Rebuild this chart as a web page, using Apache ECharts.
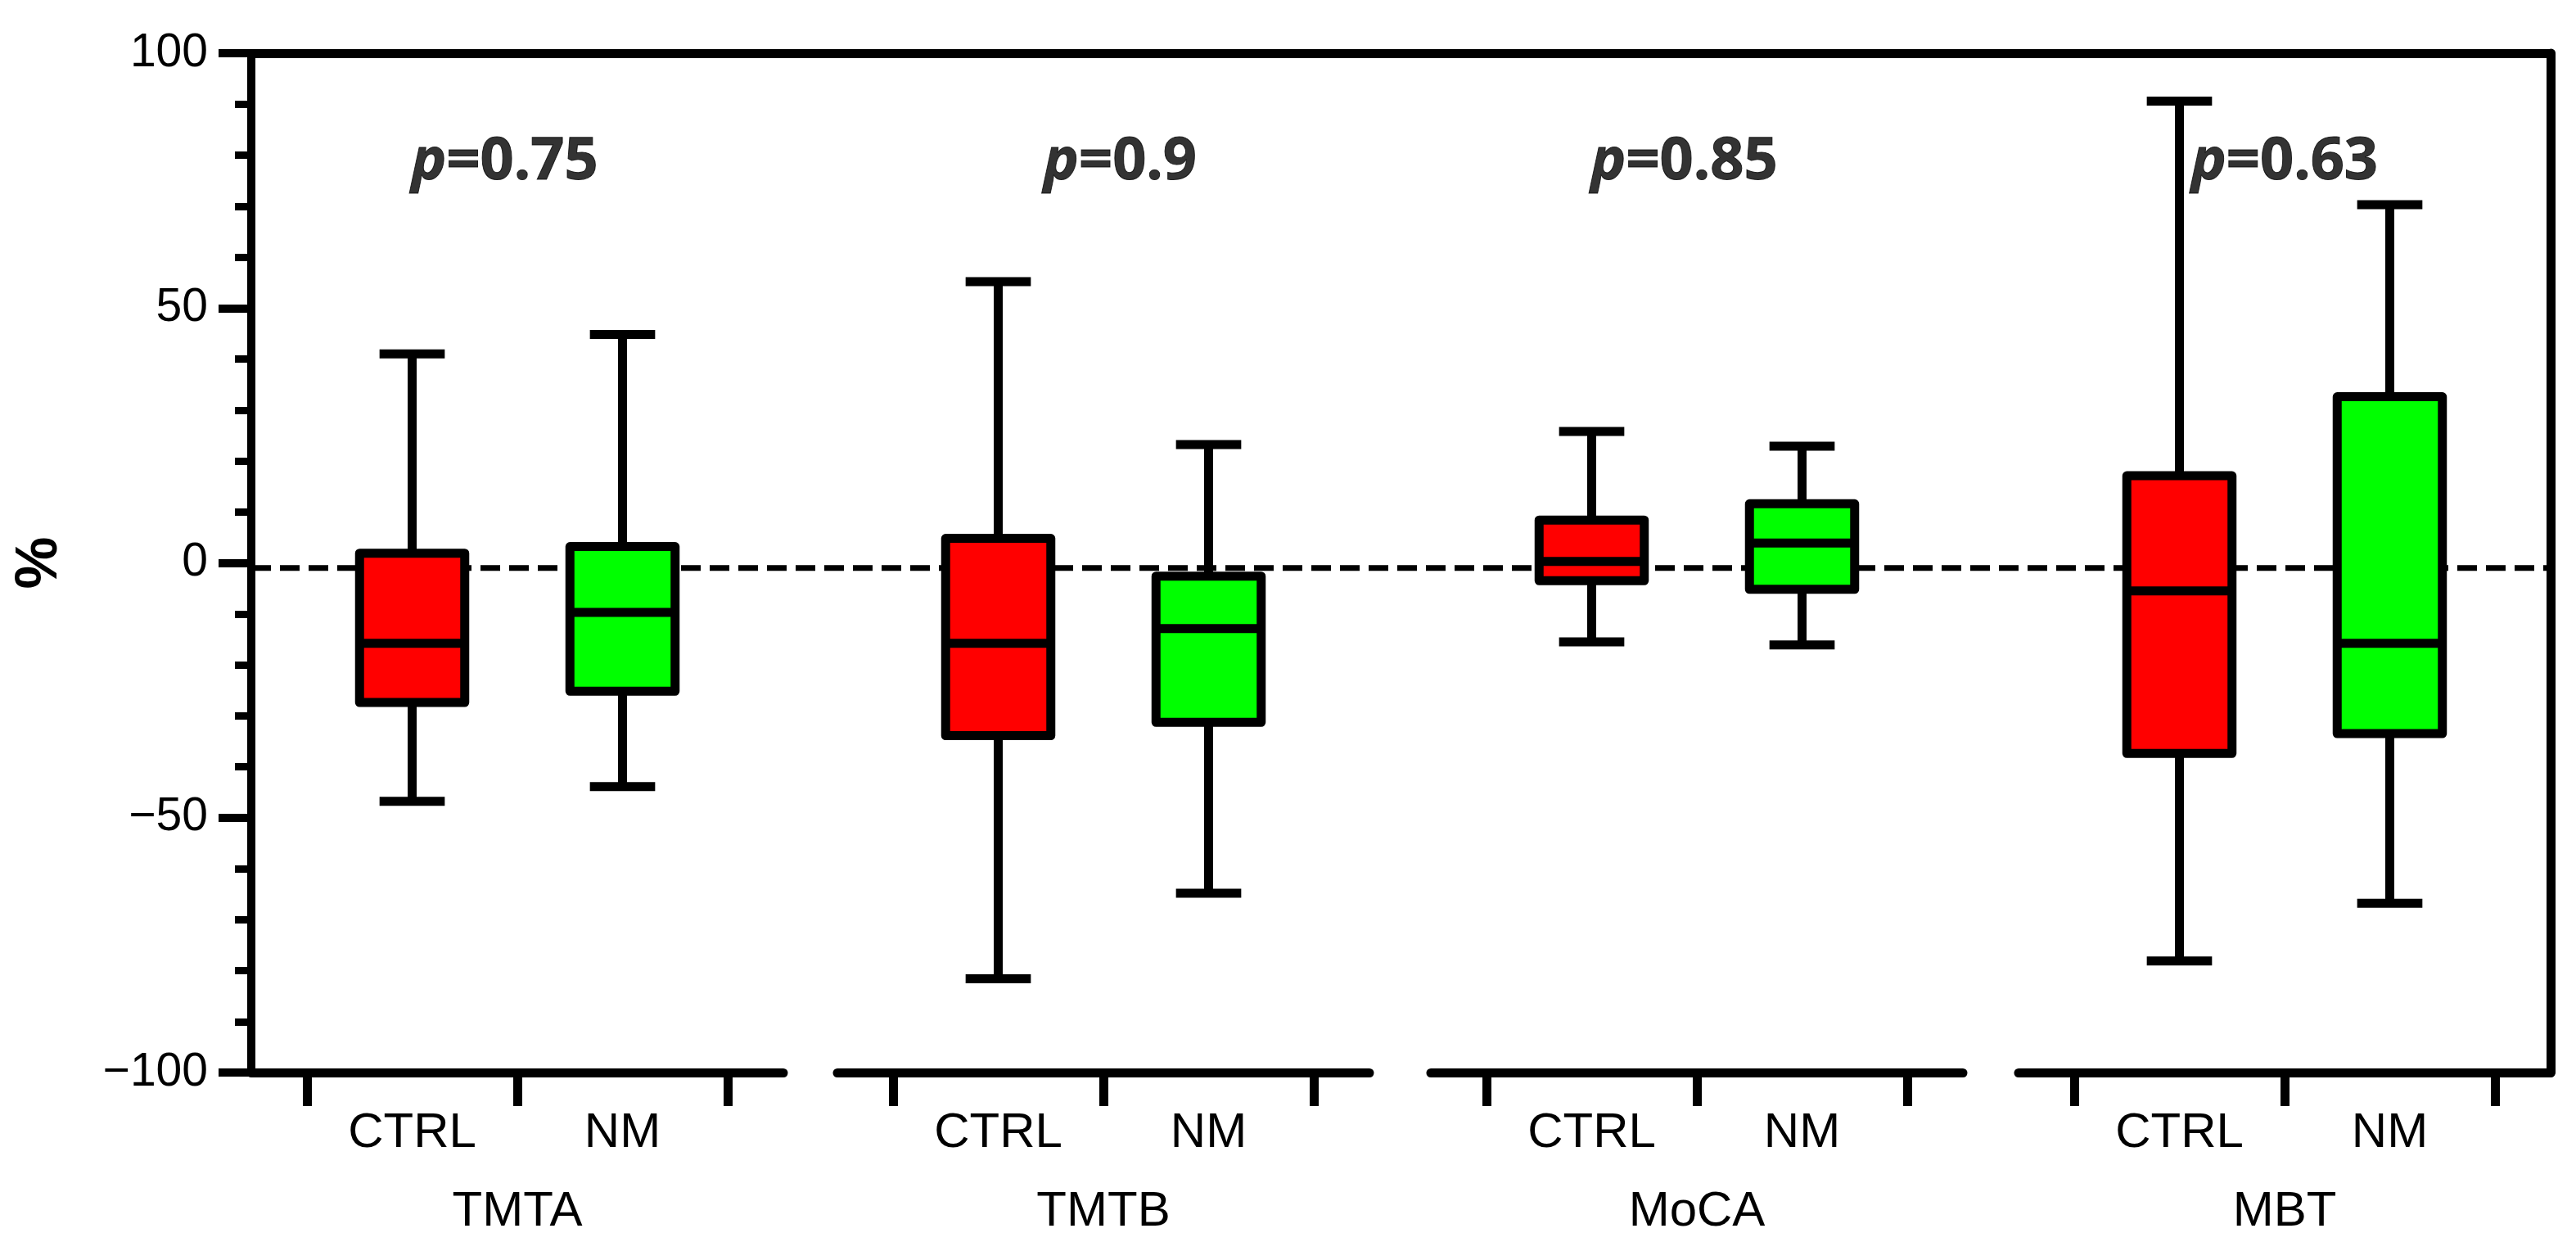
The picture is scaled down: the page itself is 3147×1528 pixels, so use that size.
<!DOCTYPE html>
<html>
<head>
<meta charset="utf-8">
<style>
html, body { margin: 0; padding: 0; background: #fff; }
#chart { width: 3147px; height: 1528px; }
</style>
</head>
<body>
<div id="chart"></div>
<script src="https://cdn.jsdelivr.net/npm/echarts@6/dist/echarts.min.js"></script>
<script>
// groups and arms
var groups = ['TMTA', 'TMTB', 'MoCA', 'MBT'];
var arms = ['CTRL', 'NM'];
var pValues = ['0.75', '0.9', '0.85', '0.63'];
// [min, Q1, median, Q3, max] per group
var ctrlBox = [
    [-46.8, -27.4, -15.8, 1.9, 41.0],
    [-81.6, -33.9, -15.8, 4.8, 55.2],
    [-15.5, -3.5, 0.3, 8.4, 25.8],
    [-78.1, -37.4, -5.5, 17.1, 90.6]
];
var nmBox = [
    [-43.9, -25.2, -9.7, 3.2, 44.8],
    [-64.8, -31.3, -12.9, -2.6, 23.2],
    [-16.1, -5.2, 3.9, 11.6, 22.9],
    [-66.8, -33.5, -15.8, 32.6, 70.3]
];
var yTicks = [-100, -50, 0, 50, 100];
var refLine = -1;

// layout (px)
var tickStart = [375, 1091, 1816, 2534];
var tickStep = 257;
var ext = 68;
var plotTop = 65, plotBottom = 1310;
var W = 3147, H = 1528;
var boxW = 0.5, capW = 0.31, lw = 11;
var pLabelX = [0.94, 1.08, 0.94, 1.0];
var pLabelY = 78.6;
var colors = ['#ff0000', '#00ff00'];

var chart = echarts.init(document.getElementById('chart'));

function renderBox(params, api) {
    var x = api.value(0);
    var lo = api.coord([x, api.value(1)]);
    var q1 = api.coord([x, api.value(2)]);
    var md = api.coord([x, api.value(3)]);
    var q3 = api.coord([x, api.value(4)]);
    var hi = api.coord([x, api.value(5)]);
    var bw = api.size([boxW, 0])[0];
    var cw = api.size([capW, 0])[0];
    var st = { stroke: '#000', lineWidth: lw };
    return {
        type: 'group',
        children: [
            { type: 'line', shape: { x1: lo[0], y1: lo[1], x2: hi[0], y2: hi[1] }, style: st },
            { type: 'line', shape: { x1: lo[0] - cw / 2, y1: lo[1], x2: lo[0] + cw / 2, y2: lo[1] }, style: st },
            { type: 'line', shape: { x1: hi[0] - cw / 2, y1: hi[1], x2: hi[0] + cw / 2, y2: hi[1] }, style: st },
            { type: 'rect', shape: { x: q3[0] - bw / 2, y: q3[1], width: bw, height: q1[1] - q3[1] },
              style: { fill: api.visual('color'), stroke: '#000', lineWidth: lw, lineJoin: 'round' } },
            { type: 'line', shape: { x1: md[0] - bw / 2, y1: md[1], x2: md[0] + bw / 2, y2: md[1] }, style: st }
        ]
    };
}

var grids = [], xAxes = [], yAxes = [], series = [];
var xMin = -ext / tickStep, xMax = 2 + ext / tickStep;

groups.forEach(function (g, i) {
    var left = tickStart[i] - ext;
    var width = 2 * tickStep + 2 * ext;
    grids.push({ left: left, width: width, top: plotTop, bottom: H - plotBottom });
    xAxes.push({
        type: 'value', gridIndex: i, min: xMin, max: xMax,
        name: g, nameLocation: 'middle', nameGap: 140,
        nameTextStyle: { fontFamily: 'Liberation Sans', fontSize: 60, color: '#000' },
        axisLine: { onZero: false, lineStyle: { color: '#000', width: lw } },
        axisTick: { customValues: [0, 1, 2], length: 41, lineStyle: { color: '#000', width: lw } },
        axisLabel: {
            customValues: [0.5, 1.5], margin: 44,
            fontFamily: 'Liberation Sans', fontSize: 60, color: '#000',
            formatter: function (v) { return arms[Math.round(v - 0.5)]; }
        },
        splitLine: { show: false }
    });
    var y = {
        type: 'value', gridIndex: i, min: -100, max: 100, interval: 50,
        axisLine: { show: i === 0, onZero: false, lineStyle: { color: '#000', width: 10 } },
        axisTick: { show: i === 0, length: 40, lineStyle: { color: '#000', width: 10 } },
        minorTick: { show: i === 0, splitNumber: 5, length: 20, lineStyle: { color: '#000', width: 9 } },
        axisLabel: {
            show: i === 0, margin: 53, fontFamily: 'Liberation Sans', fontSize: 57, color: '#000',
            formatter: function (v) { return v < 0 ? '\u2212' + Math.abs(v) : String(v); }
        },
        splitLine: { show: false }
    };
    if (i === 0) {
        y.name = '%';
        y.nameLocation = 'middle';
        y.nameGap = 222;
        y.nameTextStyle = { fontFamily: 'Liberation Sans', fontWeight: 'bold', fontSize: 72, color: '#000' };
    }
    yAxes.push(y);
    series.push({
        type: 'custom', xAxisIndex: i, yAxisIndex: i, z: 3,
        renderItem: renderBox,
        encode: { x: 0, y: [1, 2, 3, 4, 5] },
        data: [
            { value: [0.5].concat(ctrlBox[i]), itemStyle: { color: colors[0] } },
            { value: [1.5].concat(nmBox[i]), itemStyle: { color: colors[1] } }
        ]
    });
    series.push({
        type: 'scatter', xAxisIndex: i, yAxisIndex: i, symbolSize: 0, z: 4,
        data: [[pLabelX[i], pLabelY]],
        label: {
            show: true, position: 'inside', color: '#000',
            formatter: '{i|p}=' + pValues[i],
            fontFamily: 'Open Sans', fontWeight: 'bold', fontSize: 72,
            textBorderColor: '#000', textBorderWidth: 1,
            rich: { i: { fontFamily: 'Open Sans', fontWeight: 'bold', fontStyle: 'italic', fontSize: 72, color: '#000',
                         textBorderColor: '#000', textBorderWidth: 1 } }
        }
    });
});

// frame: top and right border plus the dashed reference line
var fLeft = tickStart[0] - ext;
var fRight = tickStart[3] + 2 * tickStep + ext;
grids.push({ left: fLeft, width: fRight - fLeft, top: plotTop, bottom: H - plotBottom });
xAxes.push({
    type: 'value', gridIndex: 4, min: 0, max: 1, position: 'top',
    axisLine: { onZero: false, lineStyle: { color: '#000', width: lw } },
    axisTick: { show: false }, axisLabel: { show: false }, splitLine: { show: false }
});
yAxes.push({
    type: 'value', gridIndex: 4, min: -100, max: 100, position: 'right',
    axisLine: { show: true, onZero: false, lineStyle: { color: '#000', width: lw } },
    axisTick: { show: false }, axisLabel: { show: false }, splitLine: { show: false }
});
series.push({
    type: 'line', xAxisIndex: 4, yAxisIndex: 4, z: 1, symbol: 'none',
    data: [[0, refLine], [1, refLine]],
    lineStyle: { color: '#000', width: 7, type: [24, 11] }
});

chart.setOption({
    animation: false,
    backgroundColor: '#fff',
    grid: grids,
    xAxis: xAxes,
    yAxis: yAxes,
    series: series
});
</script>
</body>
</html>
